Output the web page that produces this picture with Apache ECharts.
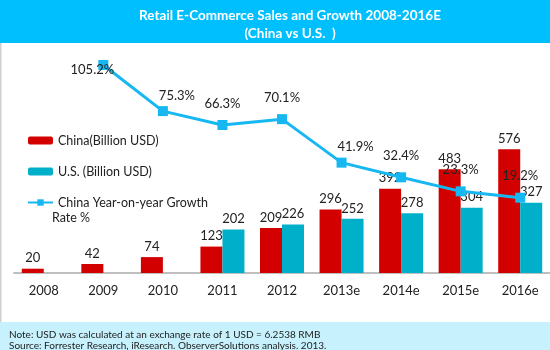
<!DOCTYPE html>
<html>
<head>
<meta charset="UTF-8">
<title>retail e-commerce</title>
<script type="text/javascript" src="https://cdn.jsdelivr.net/npm/echarts@6/dist/echarts.min.js"></script>
<style>
  html, body { margin: 0; padding: 0; background: #fff; }
</style>
</head>
<body>
<div id="main" style="width: 550px; height: 350px"></div>

<script type="text/javascript">
	// data
	var years = ['2008', '2009', '2010', '2011', '2012', '2013e', '2014e', '2015e', '2016e'];
	var chinaSales = [20, 42, 74, 123, 209, 296, 392, 483, 576];
	var usSales = [null, null, null, 202, 226, 252, 278, 304, 327];
	var chinaGrowth = [null, 105.2, 75.3, 66.3, 70.1, 41.9, 32.4, 23.3, 19.2];

	var growthName = 'China Year-on-year Growth Rate %';
	// label nudges for the growth line (style only)
	var growthLabelOffset = { 1: [-11, 26], 2: [14, 6], 5: [14, 6] };

	var font = 'Lato, "Open Sans", sans-serif';
	var txt = '#222';

	var growthData = chinaGrowth.map(function (v, i) {
		var item = { value: v };
		if (growthLabelOffset[i]) {
			item.label = { offset: growthLabelOffset[i] };
		}
		return item;
	});

	var mychart = echarts.init(document.getElementById('main'));
	var option = {
		animation: false,
		textStyle: { fontFamily: font },
		title: {
			text: 'Retail E-Commerce Sales and Growth 2008-2016E\n(China vs U.S.  )',
			left: 285,
			top: 2,
			textAlign: 'center',
			textStyle: { color: '#fff', fontSize: 13.5, fontWeight: 'bold', lineHeight: 18, fontFamily: font }
		},
		graphic: [
			{ type: 'rect', z: -1, shape: { x: 0, y: 0, width: 550, height: 43 }, style: { fill: '#00BFFF' } },
			{ type: 'rect', z: -1, shape: { x: 0, y: 43, width: 1.5, height: 279 }, style: { fill: '#d0d0d0' } },
			{ type: 'rect', z: -1, shape: { x: 0, y: 322, width: 550, height: 28 }, style: { fill: '#C6F1FD' } },
			{ type: 'text', left: 9, top: 330, style: { text: 'Note: USD was calculated at an exchange rate of 1 USD = 6.2538 RMB', fill: txt, font: '10px ' + font } },
			{ type: 'text', left: 9, top: 341, style: { text: 'Source: Forrester Research, iResearch. ObserverSolutions analysis. 2013.', fill: txt, font: '10px ' + font } },
			{ type: 'text', left: 52, top: 211, style: { text: 'Rate %', fill: txt, font: '12.5px ' + font } }
		],
		legend: {
			orient: 'vertical',
			left: 22,
			top: 128,
			itemWidth: 25,
			itemHeight: 8,
			itemGap: 16,
			data: ['China(Billion USD)', 'U.S. (Billion USD)', growthName],
			formatter: function (name) {
				return name === growthName ? 'China Year-on-year Growth' : name;
			},
			textStyle: { color: txt, fontSize: 12.5, fontFamily: font, lineHeight: 15 }
		},
		grid: { left: 14, right: 0, top: 50, bottom: 77 },
		xAxis: {
			type: 'category',
			data: years,
			axisLine: { lineStyle: { color: '#bfbfbf', width: 2 } },
			axisTick: { show: false },
			axisLabel: { color: txt, fontSize: 13, margin: 11, fontFamily: font }
		},
		yAxis: [
			{ type: 'value', min: 0, max: 1038, show: false, splitLine: { show: false } },
			{ type: 'value', min: -29.6, max: 114.9, show: false, splitLine: { show: false } }
		],
		series: [
			{
				name: 'China(Billion USD)',
				type: 'bar',
				data: chinaSales,
				barWidth: 22,
				barGap: '0%',
				itemStyle: { color: '#D30000' },
				label: { show: true, position: 'top', distance: 4, color: txt, fontSize: 13, fontFamily: font }
			},
			{
				name: 'U.S. (Billion USD)',
				type: 'bar',
				data: usSales,
				barWidth: 22,
				itemStyle: { color: '#00AFC9' },
				label: { show: true, position: 'top', distance: 4, color: txt, fontSize: 13, fontFamily: font }
			},
			{
				name: growthName,
				type: 'line',
				yAxisIndex: 1,
				data: growthData,
				symbol: 'rect',
				symbolSize: 10,
				lineStyle: { color: '#17B8F2', width: 3 },
				itemStyle: { color: '#17B8F2' },
				label: {
					show: true,
					position: 'top',
					distance: 10,
					color: txt,
					fontSize: 13,
					fontFamily: font,
					formatter: function (p) { return p.value.toFixed(1) + '%'; }
				},
				z: 5
			}
		]
	};

	mychart.setOption(option);
</script>
</body>
</html>
